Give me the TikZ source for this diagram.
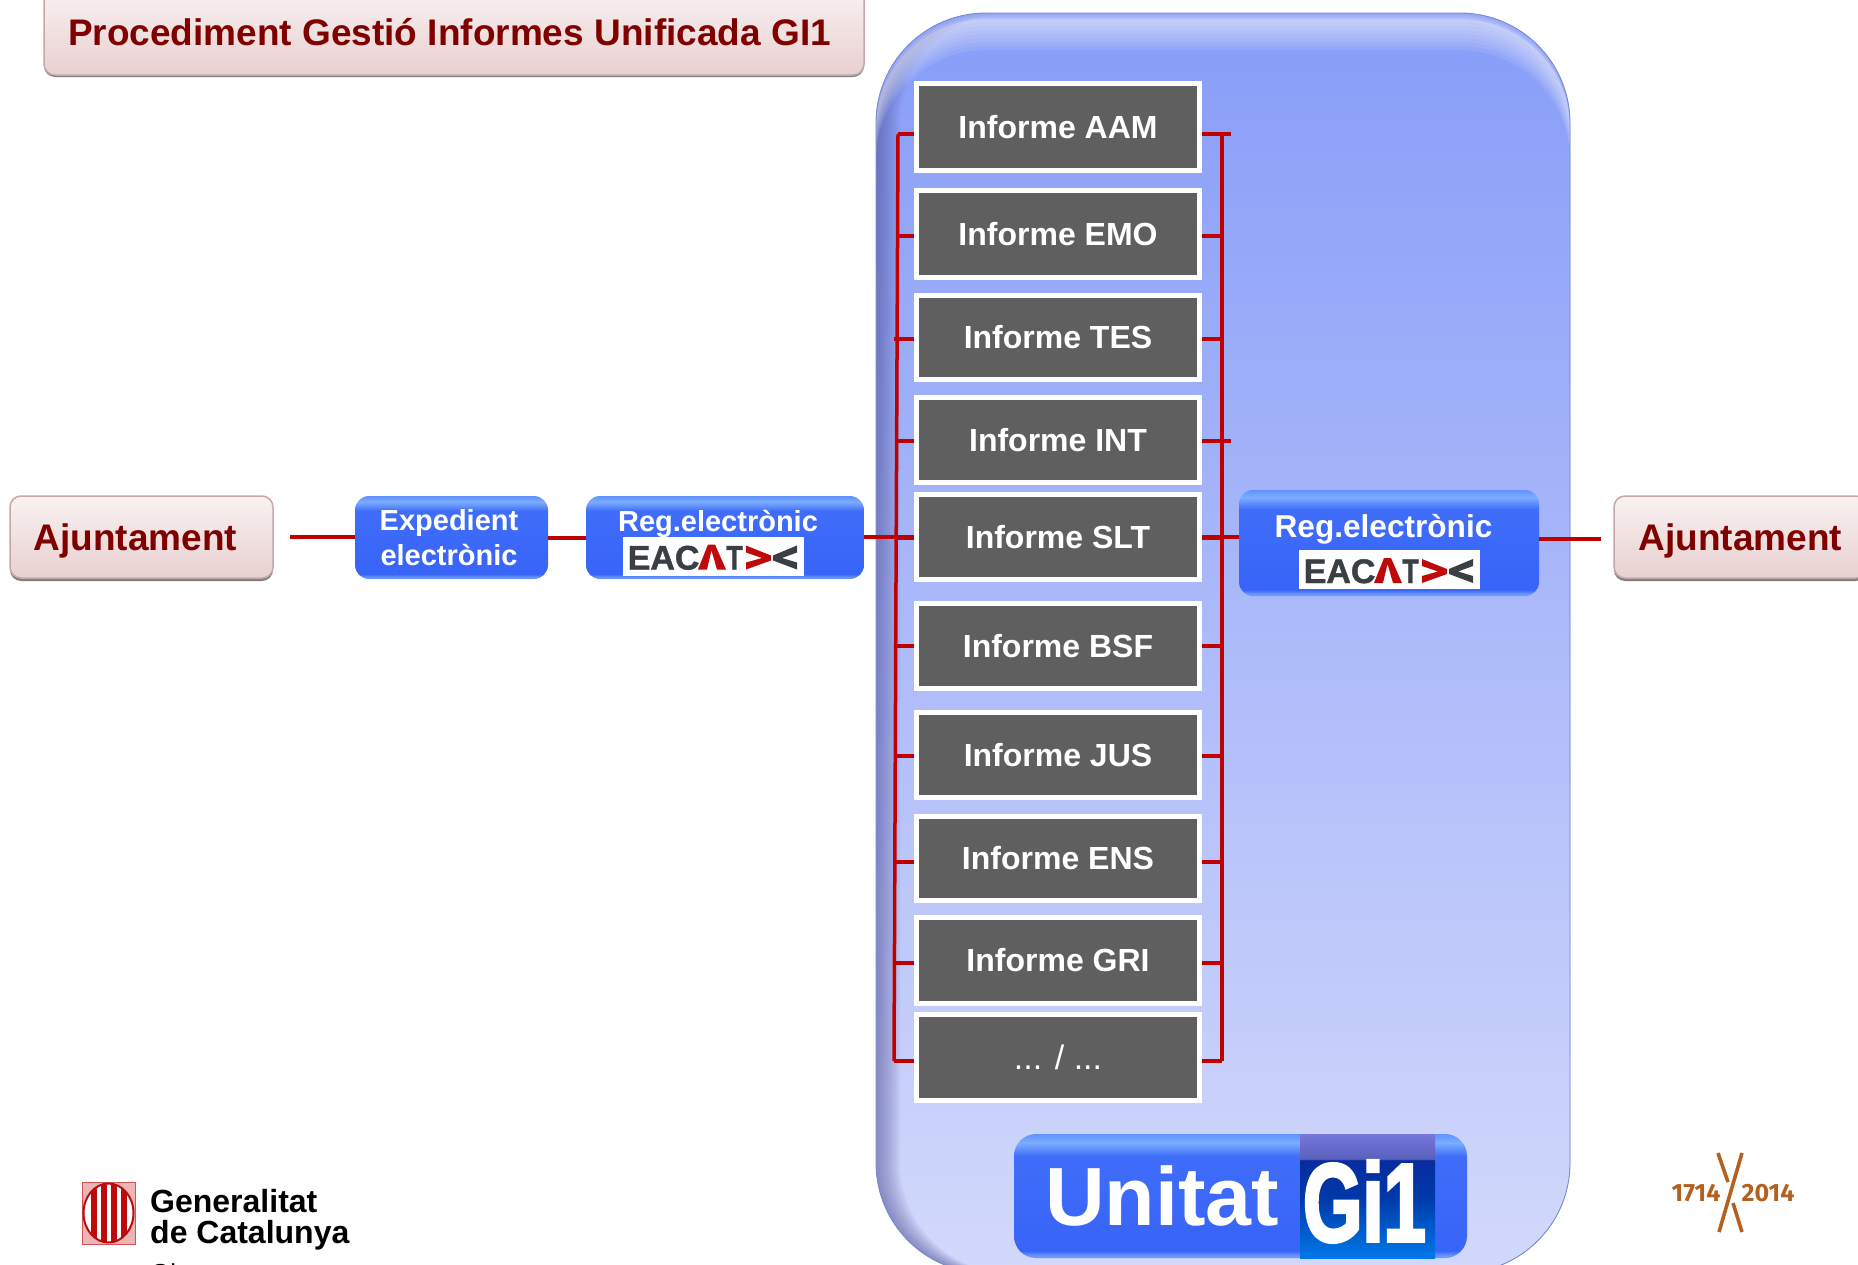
\documentclass[tikz,border=0pt]{standalone}
\usepackage{fontspec}
\setmainfont{Liberation Sans}
\newfontfamily\yearfont{Fira Sans}
\newfontfamily\gifont[FakeStretch=0.68,FakeBold=2.5]{Liberation Sans Bold}
\newfontfamily\logofont[FakeBold=1.2]{Liberation Sans Bold}
\newfontfamily\logotfont[FakeStretch=0.8,FakeBold=1.2]{Liberation Sans Bold}
\newcommand\dotstxt{\fontseries{m}\selectfont\fontsize{34}{34}\selectfont ... / ...}
\definecolor{ptop}{HTML}{8A9FF8}
\definecolor{pbot}{HTML}{D3D9FB}
\definecolor{redline}{HTML}{C00000}
\definecolor{maroon}{HTML}{800000}
\definecolor{greybox}{HTML}{5F5F5F}
\definecolor{logodark}{HTML}{3A3F44}
\definecolor{logored}{HTML}{BE0A0A}
\definecolor{bedge}{HTML}{5F92FF}
\definecolor{blight}{HTML}{7CADFF}
\definecolor{bbase}{HTML}{3F6DF9}
\definecolor{bbase2}{HTML}{3864F8}
\definecolor{bfoot}{HTML}{6C97FD}
\definecolor{gtop}{HTML}{7478DC}
\definecolor{gmid}{HTML}{5A60BC}
\definecolor{gnavy}{HTML}{062C9E}
\definecolor{gnav2}{HTML}{0038A8}
\definecolor{gblue}{HTML}{0078EA}
\definecolor{ptopfill}{HTML}{F9F1F1}
\definecolor{pbotfill}{HTML}{E8D0D0}
\definecolor{pinkedge}{HTML}{C4A9A9}
\definecolor{yearc}{HTML}{B4611F}
\pgfdeclareverticalshading{panelsh}{100bp}{color(0bp)=(pbot); color(25bp)=(pbot); color(73bp)=(ptop); color(100bp)=(ptop)}
\pgfdeclareverticalshading{btnsh}{100bp}{color(0bp)=(bfoot); color(25bp)=(bfoot); color(26bp)=(bfoot); color(28bp)=(bbase2); color(66bp)=(bbase); color(71.5bp)=(blight); color(75bp)=(bedge); color(100bp)=(bedge)}
\pgfdeclareverticalshading{gish}{100bp}{color(0bp)=(gblue); color(25bp)=(gblue); color(50bp)=(gnav2); color(64.5bp)=(gnavy); color(65bp)=(gmid); color(75bp)=(gtop); color(100bp)=(gtop)}
\tikzset{
  pinkbox/.style={draw=pinkedge,line width=1.5pt,rounded corners=11pt,top color=ptopfill,bottom color=pbotfill,inner sep=0pt,text=maroon,font=\bfseries\fontsize{37}{37}\selectfont,text depth=0pt},
  shadowbox/.style={fill=black!50,rounded corners=11pt,inner sep=0pt},
  infbox/.style={draw=white,line width=5pt,fill=greybox,inner sep=0pt,text=white,font=\bfseries\fontsize{32}{32}\selectfont,minimum width=283pt},
  btn/.style={shading=btnsh,rounded corners=14pt,inner sep=0pt},
  btntext/.style={text=white,font=\bfseries\fontsize{29}{35}\selectfont,align=center,inner sep=0pt},
  redwire/.style={draw=redline,line width=4pt},
  busline/.style={draw=redline,line width=3.5pt,line join=miter},
  logotext/.style={text=logodark,inner sep=0pt,anchor=base west,font=\logofont\fontsize{34}{34}\selectfont},
  yeartext/.style={text=yearc,inner sep=0pt,font=\yearfont\bfseries\fontsize{25}{25}\selectfont},
  yearstroke/.style={draw=yearc,line width=3.6pt},
  gentext/.style={text=black,inner sep=0pt,anchor=base west,font=\bfseries\fontsize{32}{32}\selectfont}
}
\newcommand\eacatlogo[3]{%
  \begin{scope}[shift={(#2,#3)}]
    \node[fill=white,inner sep=0pt,minimum width=181pt,minimum height=39pt] (#1box) at (90.5,19.5) {};
    \node[logotext] (#1eac) at (4.5,33) {EAC};
    \node[logotext,font=\logotfont\fontsize{34}{34}\selectfont] (#1t) at (103,33) {T};
    \fill[logored] (75,33) -- (85,8) -- (92,8) -- (103,33) -- (94,33) -- (88.5,14) -- (84,33) -- cycle;
    \fill[logored] (123,9) -- (148,19) -- (148,24) -- (123,33) -- (123,26) -- (139,21.5) -- (123,16) -- cycle;
    \fill[logodark] (174,9) -- (150,19) -- (150,24) -- (174,33) -- (174,26) -- (159,21.5) -- (174,16) -- cycle;
  \end{scope}}
\begin{document}
\begin{tikzpicture}[x=1pt,y=-1pt]
\useasboundingbox (0,0) rectangle (1858,1264);
\clip (0,0) rectangle (1858,1264);
% panel
\path[shading=panelsh,rounded corners=110pt] (876,13) rectangle (1570,1273);
\begin{scope}
  \clip[rounded corners=110pt] (876,13) rectangle (1570,1273);
  \foreach \d in {2,4,6,8,10,12,14,16,18,20,22,24}
    \fill[even odd rule,black!30!blue!40!gray,opacity=.055,rounded corners=110pt] (876,13) rectangle (1570,1273) (876+\d,13) rectangle (1570+\d,1273);
  \foreach \d in {5,9,13,17,21,25,29,33,37}
    \fill[even odd rule,white,opacity=.085,rounded corners=110pt] (876,13) rectangle (1570,1273) (876,13+\d) rectangle (1570,1273+\d);
  \foreach \d in {2,4,6}
    \fill[even odd rule,ptop,opacity=.4,rounded corners=110pt] (876,13) rectangle (1570,1273) (876,13+\d) rectangle (1570,1273+\d);
\end{scope}
\draw[draw=ptop!85!black,line width=.8pt,rounded corners=110pt] (876,13) rectangle (1570,1273);
% title
\path[shadowbox] (44,-20) rectangle (864,77);
\node[pinkbox,minimum width=820pt,minimum height=86pt] (title) at (454,32) {\kern-9pt Procediment Gestió Informes Unificada GI1};
% bus lines
\coordinate (busLt) at (898,134);
\coordinate (busLm) at (896,580);
\coordinate (busLb) at (894,1061);
\coordinate (busRt) at (1222,134);
\coordinate (busRb) at (1222,1061);
\draw[busline] (busLt) -- (busLm) -- (busLb);
\draw[busline] (busRt) -- (busRb);
% reports
\foreach \nm/\lb/\ya/\yb/\ys/\xl/\xr in {
  aam/Informe AAM/81/173/134/898/1231,
  emo/Informe EMO/188/280/236/897.5/1222,
  tes/Informe TES/293/382/339/894/1222,
  int/Informe INT/395/485/441/897/1231,
  slt/Informe SLT/492/582/538/896/1222,
  bsf/Informe BSF/601/691/646/895.5/1222,
  jus/Informe JUS/710/800/756/895/1222,
  ens/Informe ENS/814/903/862/895/1222,
  gri/Informe GRI/915/1006/963/894.5/1222,
  dts/\dotstxt/1012/1103/1061/894/1222}{
  \node[infbox,minimum height={\yb-\ya-5}] (\nm) at (1058,{(\ya+\yb)/2}) {\lb};
  \coordinate (l\nm) at (\xl,\ys);
  \coordinate (r\nm) at (\xr,\ys);
  \draw[redwire] (l\nm) -- (l\nm -| \nm.west);
  \draw[redwire] (r\nm) -- (r\nm -| \nm.east);
}
% buttons
\node[btn,minimum width=193pt,minimum height=83pt] (exp) at (451.5,537.5) {};
\node[btntext] (expt) at (449,538) {Expedient\\electrònic};
\node[btn,minimum width=278pt,minimum height=83pt] (regL) at (725,537.5) {};
\node[btntext,anchor=base] (regLt) at (718,531) {Reg.electrònic};
\eacatlogo{eacL}{623}{536.5}
\node[btn,minimum width=300pt,minimum height=106pt] (regR) at (1389,543) {};
\node[btntext,anchor=base,font=\bfseries\fontsize{31.6}{35}\selectfont] (regRt) at (1383.5,537) {Reg.electrònic};
\eacatlogo{eacR}{1299}{550}
% Ajuntament
\path[shadowbox] (10,500) rectangle (273,581);
\node[pinkbox,minimum width=263pt,minimum height=82pt] (ajL) at (141.5,537) {\kern-12pt Ajuntament};
\path[shadowbox] (1614,500) rectangle (1867,581);
\node[pinkbox,minimum width=253pt,minimum height=82pt] (ajR) at (1740.5,537) {Ajuntament};
% horizontal wires
\coordinate (wireL) at (290,537);
\coordinate (wireR) at (1601,539);
\draw[redwire] (wireL) -- (wireL -| exp.west);
\draw[redwire] (exp.east) -- (regL.west);
\draw[redwire] (regL.east |- slt.west) -- (slt.west);
\draw[redwire] (slt.east) -- (slt.east -| regR.west);
\draw[redwire] (regR.east |- wireR) -- (wireR);
% Unitat Gi1
\node[btn,rounded corners=22pt,minimum width=453pt,minimum height=124pt] (unitat) at (1240.5,1196) {};
\node[text=white,inner sep=0pt,font=\bfseries\fontsize{82.6}{82.6}\selectfont] (unitatt) at (1162,1196) {Unitat};
\node[shading=gish,minimum width=135pt,minimum height=124pt,inner sep=0pt] (gisq) at (1367.5,1196) {};
\node[text=white,inner sep=0pt,font=\gifont\fontsize{112}{112}\selectfont] (gitext) at (1364.5,1201.5) {Gi1};
% Generalitat logo
\fill[logored!30] (82,1182) rectangle (135,1244);
\draw[logored!70,line width=1pt] (82,1182) rectangle (135,1244);
\fill[white] (108.5,1213) ellipse [x radius=25,y radius=29.5];
\begin{scope}
  \clip (108.5,1213) ellipse [x radius=25,y radius=29.5];
  \foreach \bx in {91,101,111,121}
    \fill[logored] (\bx,1180) rectangle (\bx+6,1246);
\end{scope}
\draw[logored,line width=2pt] (108.5,1213) ellipse [x radius=25,y radius=29.5];
\node[gentext] (gen1) at (150,1212) {Generalitat};
\node[gentext] (gen2) at (150,1243) {de Catalunya};
\node[text=black,inner sep=0pt,anchor=base west,font=\fontsize{26}{26}\selectfont] (gen3) at (150,1282) {Girona};
% 1714-2014 logo
\draw[yearstroke] (1742,1153) -- (1719,1232);
\draw[yearstroke] (1718,1153) -- (1728,1182);
\draw[yearstroke] (1733,1203) -- (1742,1232);
\node[yeartext] (y1) at (1696,1193) {1714};
\node[yeartext] (y2) at (1768,1193) {2014};
\end{tikzpicture}
\end{document}
